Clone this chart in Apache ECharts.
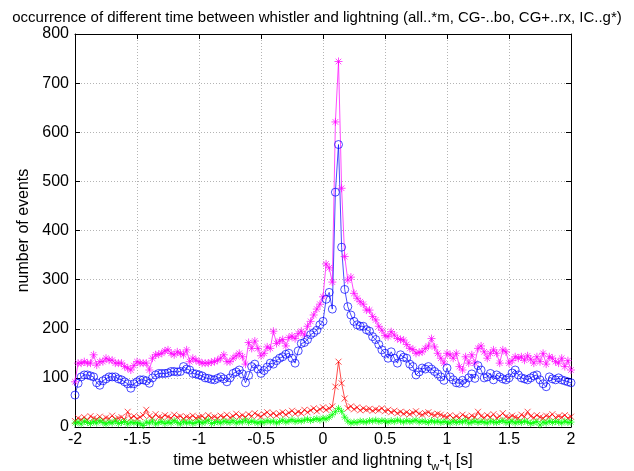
<!DOCTYPE html>
<html>
<head>
<meta charset="utf-8">
<script src="https://cdn.jsdelivr.net/npm/echarts@6/dist/echarts.min.js"></script>
<style>html,body{margin:0;padding:0;background:#fff}#c{width:634px;height:471px}</style>
</head>
<body>
<div id="c"></div>
<script>
// time bins: start -2 s, step 0.025 s, 161 bins
const binStart = -2;
const binStep = 0.025;

// all events (*m)
const allEvents = [
 92,130,130,133,130,130,147,126,133,133,140,136,136,130,130,130,123,120,116,125,
 133,130,130,130,116,140,147,148,150,155,157,150,147,153,150,147,157,133,140,136,
 133,130,130,130,132,133,136,140,147,133,133,140,145,150,143,128,172,160,175,160,
 145,150,163,160,195,170,175,178,165,182,185,180,190,195,187,205,215,228,240,250,
 265,332,324,295,621,744,486,347,299,305,272,262,255,250,238,238,225,218,205,197,
 186,184,194,187,180,178,177,168,160,158,150,152,153,160,165,180,163,150,140,130,
 150,147,140,150,123,116,143,130,147,130,160,165,153,140,150,157,150,130,157,153,
 130,135,143,140,143,136,145,138,130,143,133,150,128,143,140,133,130,140,123,135,
 116
];

// CG- (bo)
const cgNeg = [
 65,89,102,106,106,104,102,90,85,94,98,102,102,102,98,96,92,88,79,88,
 92,96,96,94,89,100,106,109,109,109,110,113,113,112,113,123,118,116,109,108,
 106,104,100,99,97,96,99,102,98,92,100,109,112,116,108,90,105,123,128,118,
 109,115,122,130,128,135,140,143,148,150,140,130,155,170,172,178,188,192,197,208,
 215,260,274,240,478,575,366,280,245,228,215,208,205,205,198,195,184,178,168,157,
 150,140,153,140,130,147,142,140,128,123,106,112,120,118,123,118,113,108,102,95,
 120,102,96,90,89,95,89,100,108,99,125,116,100,102,109,96,106,102,98,96,
 100,110,116,106,100,98,96,100,104,106,96,88,82,102,98,96,100,96,94,92,
 90
];

// CG+ (rx)
const cgPos = [
 12,18,15,20,14,22,18,16,21,15,19,17,23,16,18,20,15,31,18,22,
 17,20,24,35,22,18,26,20,19,24,21,18,25,20,22,17,21,19,23,18,
 20,22,17,24,19,21,18,23,20,25,19,22,27,21,24,20,26,22,28,24,
 21,26,30,24,28,23,27,30,25,29,33,27,31,28,35,30,34,38,32,36,
 40,35,38,42,82,133,89,58,38,42,36,40,34,38,35,37,33,36,34,38,
 32,35,30,33,28,31,27,30,26,29,32,27,25,28,30,26,24,27,25,22,
 20,24,18,22,19,25,21,18,23,20,31,22,19,24,20,26,18,22,28,21,
 19,23,20,18,25,21,31,22,19,24,20,18,23,21,26,19,22,20,24,18,
 21
];

// IC (g*)
const icEvents = [
 8,10,6,12,9,7,11,8,13,9,6,10,8,12,7,9,11,6,10,8,
 9,7,3,10,8,12,6,9,11,7,10,8,13,9,6,11,8,10,7,9,
 12,8,10,14,7,9,11,8,12,10,9,13,8,11,10,14,9,12,10,8,
 11,9,13,10,12,8,11,14,10,12,15,11,13,12,14,16,13,15,17,14,
 18,16,20,25,31,38,32,20,12,8,10,9,12,11,10,13,12,14,11,13,
 12,10,13,11,14,12,10,13,11,12,14,10,12,11,9,13,10,12,9,11,
 10,8,12,9,11,10,13,8,10,12,9,11,10,8,12,10,9,11,13,9,
 10,12,8,11,9,12,10,7,9,11,4,10,8,12,9,11,10,8,12,9,
 10
];

const xTicks = [-2, -1.5, -1, -0.5, 0, 0.5, 1, 1.5, 2];
const yTicks = [0, 100, 200, 300, 400, 500, 600, 700, 800];

function pairs(vals) {
  return vals.map((v, i) => [+(binStart + i * binStep).toFixed(3), v]);
}

const FONT = 'Liberation Sans, Arial, sans-serif';
const STAR = 'path://M0,-5L0,5M-5,0L5,0M-3.5,-3.5L3.5,3.5M-3.5,3.5L3.5,-3.5';
const CROSS = 'path://M-5,-5L5,5M-5,5L5,-5';

function mk(name, vals, color, symbol, size) {
  return {
    name, type: 'line', data: pairs(vals), xAxisIndex: 0, yAxisIndex: 0,
    symbol, symbolSize: size, showSymbol: true, showAllSymbol: true,
    lineStyle: { color, width: 1, opacity: 0.7 },
    itemStyle: { color: 'rgba(0,0,0,0)', borderColor: color, borderWidth: 1, opacity: 0.7 },
    emphasis: { disabled: true }, z: 2
  };
}

const chart = echarts.init(document.getElementById('c'), null, { renderer: 'canvas' });
chart.setOption({
  animation: false,
  backgroundColor: '#fff',
  textStyle: { fontFamily: FONT },
  title: {
    text: 'occurrence of different time between whistler and lightning (all..*m, CG-..bo, CG+..rx, IC..g*)',
    left: 'center', top: 5,
    textStyle: { fontFamily: FONT, fontSize: 15, fontWeight: 'normal', color: '#000' }
  },
  grid: { left: 75, right: 63, top: 34, bottom: 44, containLabel: false, outerBoundsMode: 'none' },
  xAxis: [{
    type: 'value', min: -2, max: 2, interval: 0.5, position: 'bottom',
    axisLine: { show: true, onZero: false, lineStyle: { color: '#000', width: 1 } },
    axisTick: { show: true, inside: true, length: 5, lineStyle: { color: '#000' } },
    axisLabel: { color: '#000', fontSize: 16, fontFamily: FONT, margin: 5,
      formatter: v => xTicks.includes(v) ? String(v) : '' },
    splitLine: { show: true, lineStyle: { color: '#b4b4b4', type: [1, 2], width: 1 } },
    name: '{a|time between whistler and lightning t}{s|w}{a|-t}{s|l}{a| [s]}',
    nameLocation: 'middle', nameGap: 23,
    nameTextStyle: { color: '#000', rich: {
      a: { fontSize: 16, fontFamily: FONT, color: '#000', lineHeight: 18, verticalAlign: 'top' },
      s: { fontSize: 11, fontFamily: FONT, color: '#000', lineHeight: 13, padding: [9, 0, 0, 0], verticalAlign: 'top' }
    } }
  }, {
    type: 'value', min: -2, max: 2, interval: 0.5, position: 'top',
    axisLine: { show: true, onZero: false, lineStyle: { color: '#000', width: 1 } },
    axisTick: { show: true, inside: true, length: 5, lineStyle: { color: '#000' } },
    axisLabel: { show: false }, splitLine: { show: false }
  }],
  yAxis: [{
    type: 'value', min: 0, max: 800, interval: 100, position: 'left',
    axisLine: { show: true, onZero: false, lineStyle: { color: '#000', width: 1 } },
    axisTick: { show: true, inside: true, length: 5, lineStyle: { color: '#000' } },
    axisLabel: { color: '#000', fontSize: 16, fontFamily: FONT, margin: 6,
      formatter: v => yTicks.includes(v) ? String(v) : '' },
    splitLine: { show: true, lineStyle: { color: '#b4b4b4', type: [1, 2], width: 1 } },
    name: 'number of events', nameLocation: 'middle', nameGap: 38,
    nameTextStyle: { color: '#000', fontSize: 16, fontFamily: FONT }
  }, {
    type: 'value', min: 0, max: 800, interval: 100, position: 'right',
    axisLine: { show: true, onZero: false, lineStyle: { color: '#000', width: 1 } },
    axisTick: { show: true, inside: true, length: 5, lineStyle: { color: '#000' } },
    axisLabel: { show: false }, splitLine: { show: false }
  }],
  series: [
    mk('all', allEvents, '#ff00ff', STAR, 8),
    mk('CG-', cgNeg, '#0000ff', 'circle', 8),
    mk('CG+', cgPos, '#ff0000', CROSS, 6),
    mk('IC', icEvents, '#00ff00', STAR, 7)
  ]
});
</script>
</body>
</html>
